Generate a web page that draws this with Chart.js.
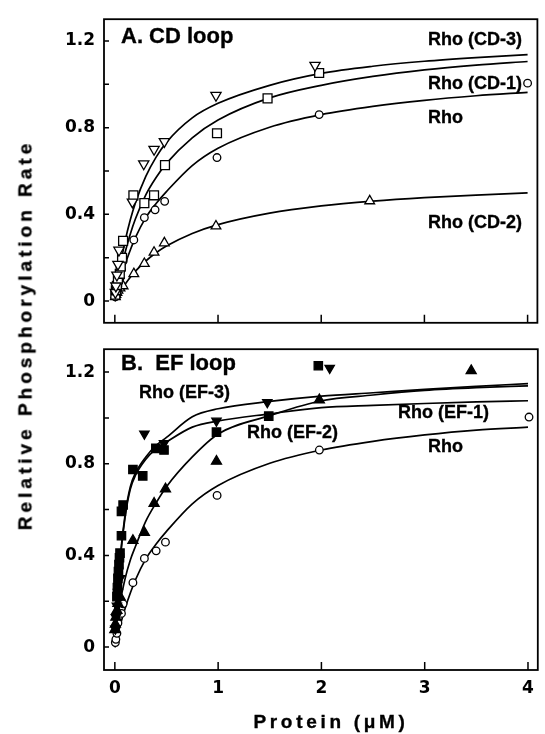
<!DOCTYPE html>
<html><head><meta charset="utf-8">
<script src="https://cdn.jsdelivr.net/npm/chart.js@4.4.1/dist/chart.umd.min.js"></script>
<style>
html,body{margin:0;padding:0;background:#fff;}
body{width:545px;height:734px;position:relative;overflow:hidden;font-family:'Liberation Sans',Arial,sans-serif;font-weight:bold;color:#000;}
#wa{position:absolute;left:0;top:0;width:545px;height:342px;}
#wb{position:absolute;left:0;top:330px;width:545px;height:404px;}
.t{position:absolute;white-space:pre;line-height:1;font-size:18px;-webkit-text-stroke:0.35px #000;}
.p{font-size:22px;}
#yt{position:absolute;left:25px;top:335px;font-size:19px;line-height:19px;letter-spacing:4px;white-space:nowrap;transform:translate(-50%,-50%) rotate(-90deg);-webkit-text-stroke:0.35px #000;}
#xt{position:absolute;left:331px;top:712px;font-size:19px;line-height:19px;letter-spacing:3.7px;white-space:nowrap;transform:translateX(-50%);-webkit-text-stroke:0.35px #000;}
</style></head><body>
<div id="wa"><canvas id="ca" width="545" height="342"></canvas></div>
<div id="wb"><canvas id="cb" width="545" height="404"></canvas></div>
<div id="yt">Relative Phosphorylation Rate</div>
<div id="xt">Protein (μM)</div>
<div class="t p" style="left:121px;top:25px;">A. CD loop</div>
<div class="t p" style="left:121px;top:352px;">B.  EF loop</div>
<div class="t" style="left:428px;top:30px;">Rho (CD-3)</div>
<div class="t" style="left:428px;top:74px;">Rho (CD-1)</div>
<div class="t" style="left:428px;top:108px;">Rho</div>
<div class="t" style="left:428px;top:213px;">Rho (CD-2)</div>
<div class="t" style="left:139px;top:383px;">Rho (EF-3)</div>
<div class="t" style="left:247px;top:423px;">Rho (EF-2)</div>
<div class="t" style="left:398px;top:403px;">Rho (EF-1)</div>
<div class="t" style="left:428px;top:437px;">Rho</div>
<script>
// ---- tick values ----
const xTickVals = [0, 1, 2, 3, 4];
const xTickLabels = ['0', '1', '2', '3', '4'];
const yTickVals = [0, 0.2, 0.4, 0.6, 0.8, 1.0, 1.2];
const yLabelVals = [0, 0.4, 0.8, 1.2];
const yLabelText = ['0', '0.4', '0.8', '1.2'];

// ---- Panel A measured points ----
const cd3X = [0.005, 0.01, 0.02, 0.03, 0.04, 0.17, 0.28, 0.38, 0.48, 0.98, 1.94];
const cd3Y = [0.04, 0.07, 0.12, 0.17, 0.235, 0.457, 0.633, 0.70, 0.736, 0.949, 1.087];
const cd1X = [0.005, 0.01, 0.02, 0.03, 0.048, 0.057, 0.07, 0.08, 0.18, 0.286, 0.38, 0.486, 0.99, 1.48, 1.98];
const cd1Y = [0.03, 0.05, 0.07, 0.10, 0.126, 0.16, 0.20, 0.278, 0.488, 0.452, 0.488, 0.627, 0.774, 0.935, 1.052];
const rhoX = [0.005, 0.01, 0.02, 0.03, 0.05, 0.065, 0.08, 0.184, 0.286, 0.39, 0.483, 0.99, 1.98, 4.0];
const rhoY = [0.02, 0.03, 0.05, 0.07, 0.105, 0.147, 0.185, 0.282, 0.385, 0.421, 0.46, 0.662, 0.86, 1.005];
const cd2X = [0.005, 0.01, 0.02, 0.03, 0.05, 0.08, 0.184, 0.286, 0.38, 0.48, 0.98, 2.47];
const cd2Y = [0.02, 0.03, 0.04, 0.05, 0.06, 0.07, 0.126, 0.173, 0.225, 0.268, 0.346, 0.462];

// ---- Panel B measured points ----
const ef3X = [0.005, 0.01, 0.02, 0.03, 0.05, 0.286, 0.476, 0.984, 1.476, 2.08];
const ef3Y = [0.08, 0.13, 0.18, 0.24, 0.30, 0.931, 0.889, 0.987, 1.068, 1.218];
const ef1X = [0.02, 0.025, 0.03, 0.035, 0.04, 0.045, 0.05, 0.064, 0.064, 0.08, 0.175, 0.27, 0.397, 0.476, 0.984, 1.49, 1.97];
const ef1Y = [0.22, 0.26, 0.30, 0.33, 0.36, 0.39, 0.41, 0.486, 0.592, 0.62, 0.775, 0.747, 0.867, 0.86, 0.938, 1.008, 1.228];
const ef2X = [0.0, 0.005, 0.01, 0.02, 0.03, 0.05, 0.175, 0.286, 0.38, 0.49, 0.984, 1.98, 3.45];
const ef2Y = [0.076, 0.10, 0.13, 0.16, 0.19, 0.22, 0.465, 0.50, 0.627, 0.69, 0.811, 1.079, 1.206];
const rhoBX = [0.005, 0.01, 0.02, 0.03, 0.064, 0.08, 0.175, 0.286, 0.4, 0.49, 0.99, 1.98, 4.01];
const rhoBY = [0.02, 0.034, 0.06, 0.105, 0.147, 0.189, 0.281, 0.387, 0.42, 0.458, 0.662, 0.86, 1.004];

// ---- fitted curves ----
const fitX =     [0, 0.02, 0.05, 0.1, 0.15, 0.2, 0.3, 0.4, 0.5, 0.75, 1, 1.5, 2, 2.5, 3, 3.5, 4];
const cd3Fit =   [0, 0.068, 0.157, 0.278, 0.375, 0.454, 0.575, 0.664, 0.732, 0.845, 0.912, 0.995, 1.05, 1.083, 1.106, 1.123, 1.137];
const cd1Fit =   [0, 0.05, 0.12, 0.225, 0.31, 0.38, 0.49, 0.57, 0.635, 0.753, 0.835, 0.937, 0.995, 1.036, 1.066, 1.088, 1.105];
const rhoFit =   [0, 0.039, 0.092, 0.17, 0.236, 0.294, 0.385, 0.45, 0.505, 0.625, 0.705, 0.802, 0.86, 0.898, 0.926, 0.947, 0.963];
const cd2Fit =   [0, 0.018, 0.042, 0.078, 0.11, 0.138, 0.185, 0.223, 0.254, 0.312, 0.353, 0.406, 0.439, 0.461, 0.477, 0.489, 0.499];
const ef3Fit =   [0, 0.17, 0.38, 0.58, 0.70, 0.76, 0.83, 0.88, 0.915, 1.005, 1.04, 1.072, 1.095, 1.11, 1.125, 1.138, 1.15];
const ef1Fit =   [0, 0.17, 0.37, 0.57, 0.69, 0.75, 0.82, 0.865, 0.895, 0.96, 0.987, 1.018, 1.045, 1.055, 1.063, 1.07, 1.075];
const ef2Fit =   [0, 0.09, 0.19, 0.30, 0.38, 0.44, 0.55, 0.63, 0.70, 0.83, 0.93, 1.01, 1.075, 1.10, 1.12, 1.132, 1.14];
const rhoBFit =  [0, 0.039, 0.092, 0.17, 0.236, 0.294, 0.385, 0.45, 0.505, 0.625, 0.705, 0.802, 0.86, 0.898, 0.926, 0.947, 0.96];

const zip = (xs, ys) => xs.map((x, i) => ({x: x, y: ys[i]}));

function pts(xs, ys, style, r, filled, rot) {
  return {
    data: zip(xs, ys), showLine: false,
    pointStyle: style, pointRadius: r, pointHoverRadius: r,
    pointRotation: rot || 0,
    pointBackgroundColor: filled ? '#000' : '#fff',
    pointBorderColor: '#000', pointBorderWidth: 1.3, clip: false
  };
}
function curve(ys) {
  return {
    data: zip(fitX, ys), showLine: true, pointRadius: 0, pointHoverRadius: 0,
    borderColor: '#000', borderWidth: 1.7, cubicInterpolationMode: 'monotone',
    fill: false
  };
}

const frameTicks = {
  id: 'frameTicks',
  afterDraw(chart) {
    const {ctx, chartArea: a, scales} = chart;
    const x = scales.x, y = scales.y;
    ctx.save();
    ctx.strokeStyle = '#000';
    ctx.lineWidth = 1.8;
    ctx.strokeRect(a.left, a.top, a.right - a.left, a.bottom - a.top);
    ctx.lineWidth = 1.5;
    ctx.beginPath();
    yTickVals.forEach(v => { const py = y.getPixelForValue(v); ctx.moveTo(a.left, py); ctx.lineTo(a.left + 5, py); });
    xTickVals.forEach(v => { const px = x.getPixelForValue(v); ctx.moveTo(px, a.bottom); ctx.lineTo(px, a.bottom - 8); });
    ctx.stroke();
    ctx.restore();
  }
};

const tickFont = {family: "'DejaVu Sans', 'Liberation Sans', sans-serif", weight: 'bold', size: 17};

function makeChart(id, datasets, showX, padTop, xHeight) {
  return new Chart(document.getElementById(id), {
    type: 'scatter',
    data: {datasets: datasets},
    options: {
      responsive: false, animation: false, events: [],
      layout: {padding: {top: padTop, right: 1, left: 0, bottom: showX ? 0 : 1}},
      plugins: {legend: {display: false}, tooltip: {enabled: false}},
      scales: {
        x: {
          type: 'linear', min: -0.105, max: 4.095,
          grid: {display: false, drawTicks: false}, border: {display: false},
          afterBuildTicks: s => { s.ticks = xTickVals.map(v => ({value: v})); },
          ticks: {display: showX, padding: 8, color: '#000', font: tickFont,
                  callback: (v) => xTickLabels[xTickVals.indexOf(v)]},
          afterFit: s => { s.height = xHeight; }
        },
        y: {
          type: 'linear', min: -0.1, max: 1.3,
          grid: {display: false, drawTicks: false}, border: {display: false},
          afterBuildTicks: s => { s.ticks = yLabelVals.map(v => ({value: v})); },
          ticks: {padding: 9, color: '#000', font: tickFont,
                  callback: (v) => yLabelText[yLabelVals.indexOf(v)]},
          afterFit: s => { s.width = 104; }
        }
      }
    },
    plugins: [frameTicks]
  });
}

makeChart('ca', [
  pts(cd3X, cd3Y, 'triangle', 5.9, false, 180),
  pts(cd1X, cd1Y, 'rect', 6.3, false),
  pts(rhoX, rhoY, 'circle', 3.8, false),
  pts(cd2X, cd2Y, 'triangle', 5.6, false),
  curve(cd3Fit), curve(cd1Fit), curve(rhoFit), curve(cd2Fit)
], false, 12, 0);

makeChart('cb', [
  pts(ef3X, ef3Y, 'triangle', 5.4, true, 180),
  pts(ef1X, ef1Y, 'rect', 5.9, true),
  pts(ef2X, ef2Y, 'triangle', 5.8, true),
  pts(rhoBX, rhoBY, 'circle', 3.8, false),
  curve(ef3Fit), curve(ef1Fit), curve(ef2Fit), curve(rhoBFit)
], true, 11, 64);
</script>
</body></html>
